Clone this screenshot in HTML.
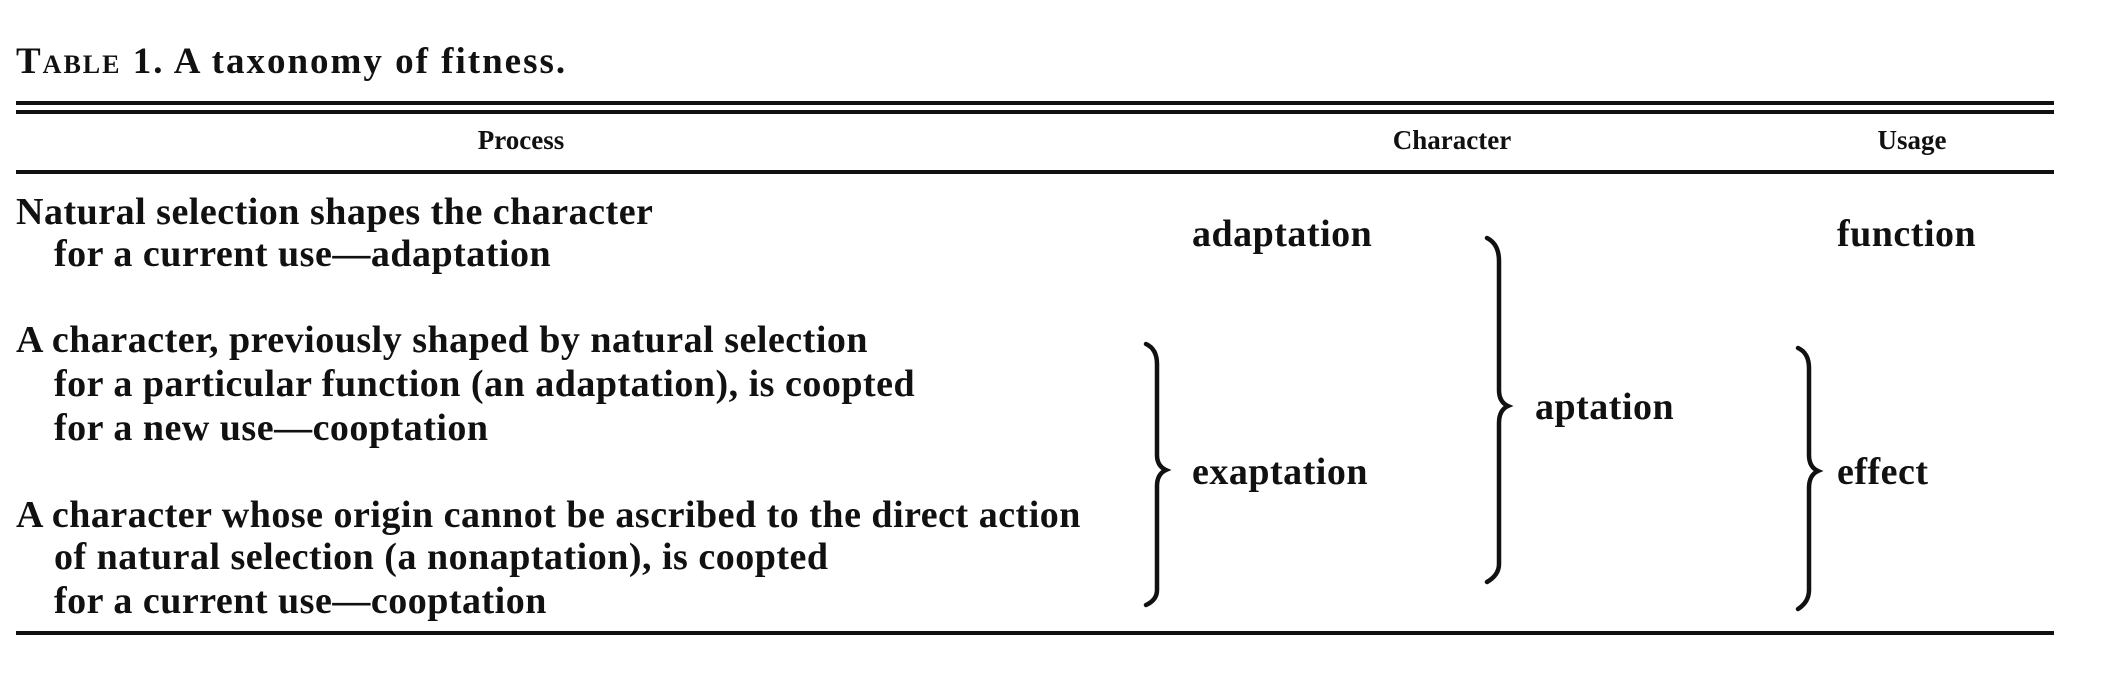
<!DOCTYPE html>
<html><head><meta charset="utf-8"><style>
body{margin:0;width:2111px;height:700px;background:#fff;position:relative;overflow:hidden;font-family:"Liberation Serif",serif;color:#111}
.t{position:absolute;white-space:nowrap;font-size:38px;font-weight:bold;line-height:1;letter-spacing:0.5px}
.h{position:absolute;white-space:nowrap;font-size:27px;font-weight:bold;line-height:1;transform:translateX(-50%)}
.r{position:absolute;left:16px;width:2038px;background:#111}
</style></head><body>
<div class="t" style="left:16px;top:43px;font-size:37px;letter-spacing:2px"><span style="font-variant:small-caps">Table</span> 1. A taxonomy of fitness.</div>
<div class="r" style="top:101px;height:4px"></div>
<div class="r" style="top:110px;height:4px"></div>
<div class="h" style="left:521px;top:127px">Process</div>
<div class="h" style="left:1452px;top:127px">Character</div>
<div class="h" style="left:1912px;top:127px">Usage</div>
<div class="r" style="top:170px;height:4px"></div>
<div class="r" style="top:631px;height:4px"></div>

<div class="t" style="left:16px;top:193px">Natural selection shapes the character</div>
<div class="t" style="left:54px;top:235px">for a current use—adaptation</div>
<div class="t" style="left:16px;top:321px">A character, previously shaped by natural selection</div>
<div class="t" style="left:54px;top:365px">for a particular function (an adaptation), is coopted</div>
<div class="t" style="left:54px;top:409px">for a new use—cooptation</div>
<div class="t" style="left:16px;top:496px">A character whose origin cannot be ascribed to the direct action</div>
<div class="t" style="left:54px;top:538px">of natural selection (a nonaptation), is coopted</div>
<div class="t" style="left:54px;top:582px">for a current use—cooptation</div>

<div class="t" style="left:1192px;top:215px">adaptation</div>
<div class="t" style="left:1192px;top:453px">exaptation</div>
<div class="t" style="left:1535px;top:388px">aptation</div>
<div class="t" style="left:1837px;top:215px">function</div>
<div class="t" style="left:1837px;top:453px">effect</div>

<svg width="2111" height="700" style="position:absolute;left:0;top:0" fill="none" stroke="#111" stroke-width="4.5" stroke-linecap="round">
<path d="M1146 344 Q1157 349 1157 364 L1157 455 Q1157 466 1166 470 Q1157 474 1157 486 L1157 590 Q1157 600 1146 605"/>
<path d="M1487 238 Q1499 244 1499 261 L1499 390 Q1499 402 1508 406 Q1499 410 1499 423 L1499 564 Q1499 575 1487 582"/>
<path d="M1798 348 Q1809 353 1809 368 L1809 455 Q1809 467 1818 471 Q1809 475 1809 488 L1809 590 Q1809 602 1798 609"/>
</svg>
</body></html>
